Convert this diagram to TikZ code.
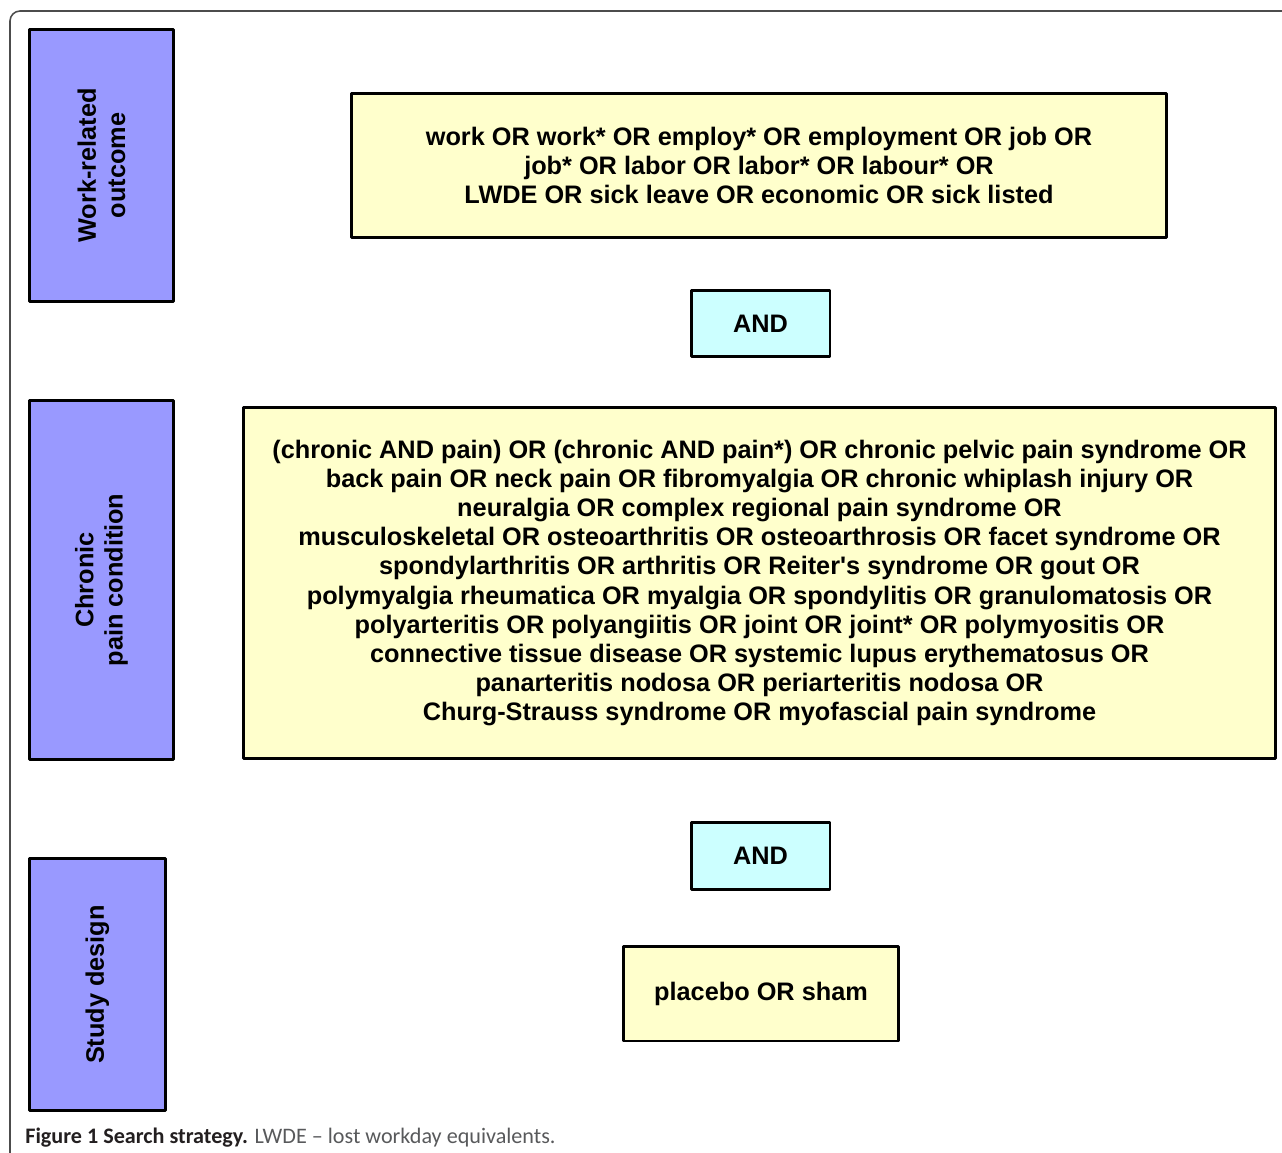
\documentclass[tikz,border=0pt]{standalone}
\usepackage{fontspec}
\setmainfont{Liberation Sans}
\newfontfamily\capfont{Carlito}
\definecolor{topicblue}{HTML}{9999FF}
\definecolor{termyellow}{HTML}{FFFFCC}
\definecolor{andcyan}{HTML}{CCFFFF}
\definecolor{capdark}{HTML}{231F20}
\definecolor{capgray}{HTML}{58595B}
\begin{document}
\begin{tikzpicture}[x=0.02cm,y=-0.02cm,line join=round,
	box/.style={draw,line width=1.7pt,align=center,inner sep=2pt,
		font=\bfseries\fontsize{14.4pt}{16.6pt}\selectfont},
	topic/.style={box,fill=topicblue,rotate=90},
	terms/.style={box,fill=termyellow},
	andbox/.style={box,fill=andcyan,minimum width=2.78cm,minimum height=1.33cm}]
\useasboundingbox (0,0) rectangle (1282,1153);
\draw[line width=0.9pt,gray!60!black,rounded corners=5.7pt] (10,1160) -- (10,11) -- (1290,11);
% topics on the left
\node[topic,minimum width=5.46cm,minimum height=2.9cm] (work) at (101.5,165.5) {Work-related\\outcome};
\node[topic,minimum width=7.2cm,minimum height=2.9cm] (pain) at (101.5,580) {Chronic\\pain condition};
\node[topic,minimum width=5.06cm,minimum height=2.74cm] (design) at (97.5,984.5) {Study design};
% search terms
\node[terms,minimum width=16.32cm,minimum height=2.9cm] (workterms) at (759,165.5) {work OR work* OR employ* OR employment OR job OR\\
job* OR labor OR labor* OR labour* OR\\
LWDE OR sick leave OR economic OR sick listed};
\node[andbox] (and1) at (760.5,323.5) {AND};
\node[terms,minimum width=20.66cm,minimum height=7.04cm] (painterms) at (759.5,583) {(chronic AND pain) OR (chronic AND pain*) OR chronic pelvic pain syndrome OR\\
back pain OR neck pain OR fibromyalgia OR chronic whiplash injury OR\\
neuralgia OR complex regional pain syndrome OR\\
musculoskeletal OR osteoarthritis OR osteoarthrosis OR facet syndrome OR\\
spondylarthritis OR arthritis OR Reiter\textquotesingle s syndrome OR gout OR\\
polymyalgia rheumatica OR myalgia OR spondylitis OR granulomatosis OR\\
polyarteritis OR polyangiitis OR joint OR joint* OR polymyositis OR\\
connective tissue disease OR systemic lupus erythematosus OR\\
panarteritis nodosa OR periarteritis nodosa OR\\
Churg-Strauss syndrome OR myofascial pain syndrome};
\node[andbox] (and2) at (760.5,856) {AND};
\node[terms,minimum width=5.52cm,minimum height=1.9cm] (designterms) at (761,993.5) {placebo OR sham};
% caption
\node[anchor=base west,inner sep=0pt,font=\capfont\fontsize{12.6pt}{14pt}\selectfont] (caption) at (25,1143)
	{\textcolor{capdark}{\bfseries Figure 1 Search strategy.} \textcolor{capgray}{LWDE – lost workday equivalents.}};
\end{tikzpicture}
\end{document}
